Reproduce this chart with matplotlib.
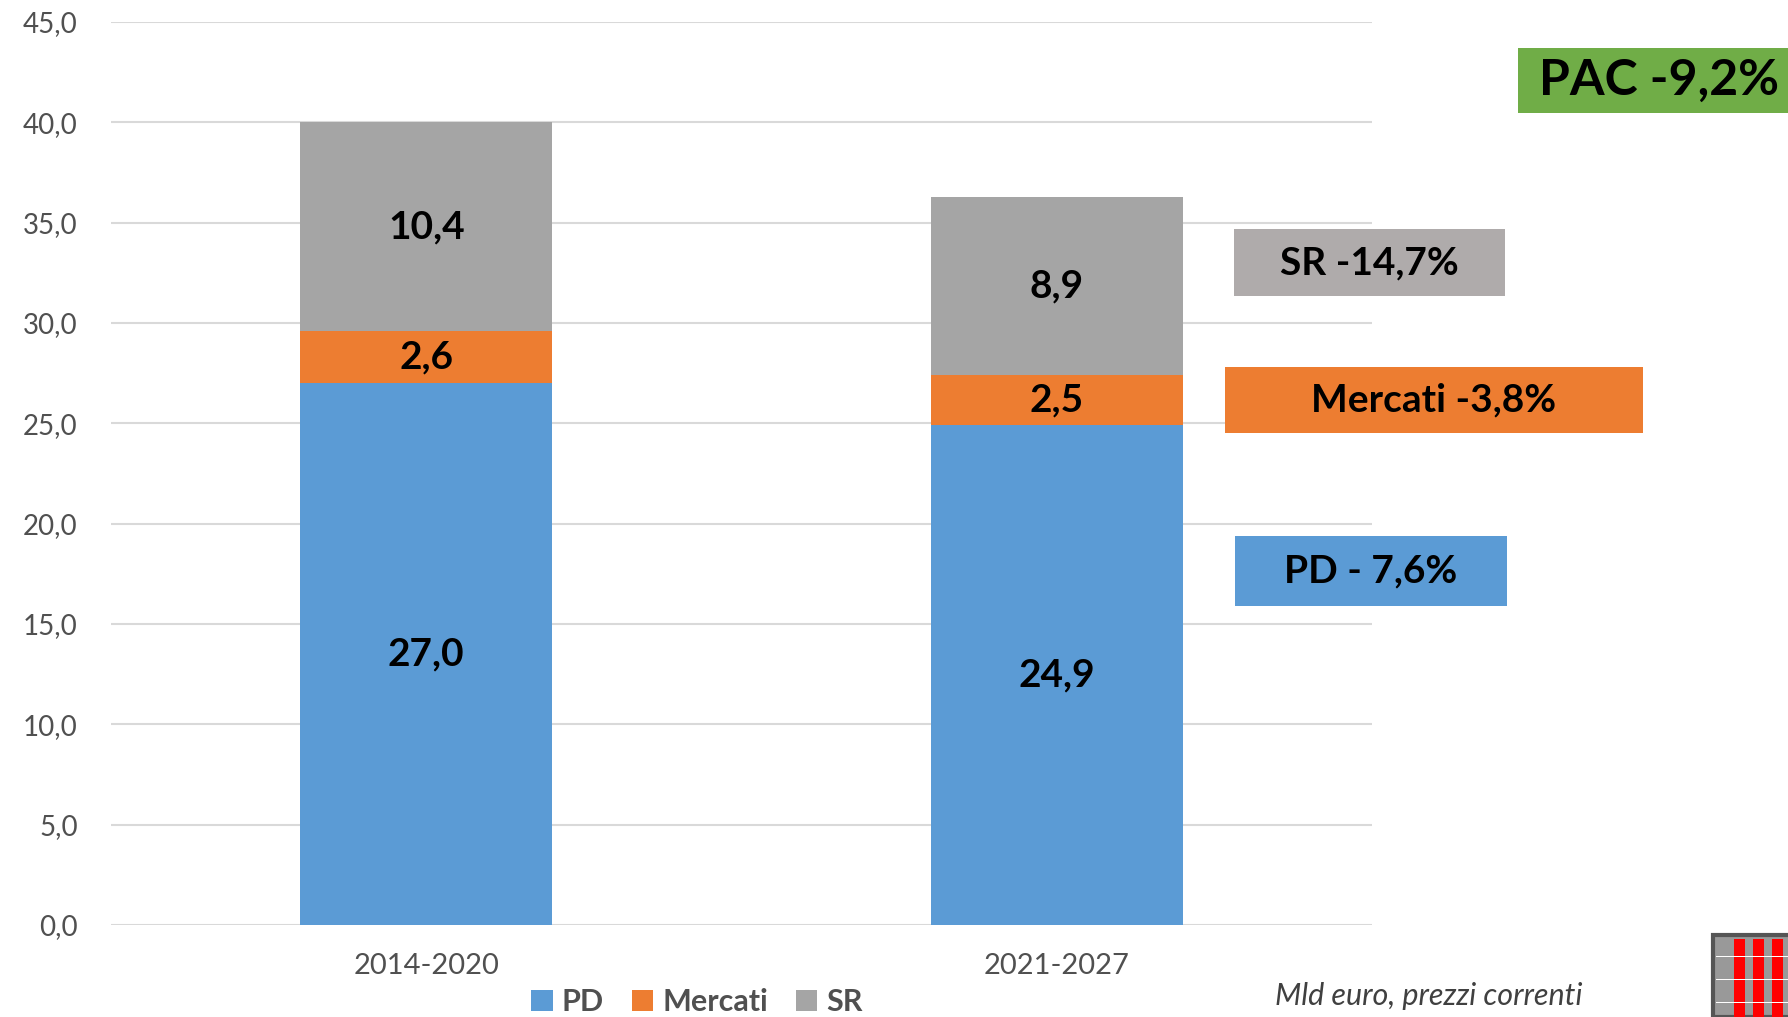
import matplotlib
matplotlib.use("Agg")
import matplotlib.pyplot as plt
from matplotlib.patches import Rectangle
import numpy as np

# data
periodi = ["2014-2020", "2021-2027"]
pd_vals = [27.0, 24.9]
mercati_vals = [2.6, 2.5]
sr_vals = [10.4, 8.9]
serie = ["PD", "Mercati", "SR"]
variazioni = ["SR -14,7%", "Mercati -3,8%", "PD - 7,6%"]
totale = "PAC -9,2%"
nota = "Mld euro, prezzi correnti"

colori = ["#5B9BD5", "#ED7D31", "#A5A5A5"]

plt.rcParams['font.family'] = ['Lato', 'DejaVu Sans']

W, H = 1788, 1017
fig = plt.figure(figsize=(W / 100, H / 100), dpi=100)
ax = fig.add_axes([111 / W, 1 - 925 / H, (1372 - 111) / W, (925 - 22) / H])

x = np.arange(len(periodi))
bottom = np.zeros(len(periodi))
for nome, vals, col in zip(serie, [pd_vals, mercati_vals, sr_vals], colori):
    vals = np.array(vals)
    ax.bar(x, vals, 0.4, bottom=bottom, color=col, label=nome, zorder=2)
    for xi, b, v in zip(x, bottom, vals):
        ax.text(xi, b + v / 2, f"{v:.1f}".replace(".", ","), ha="center", va="center",
                fontsize=28, fontweight="bold", color="black", zorder=3)
    bottom += vals

ax.set_xlim(-0.5, 1.5)
ax.set_ylim(0, 45)
ax.set_yticks(np.arange(0, 46, 5))
ax.set_yticklabels([f"{v:.1f}".replace(".", ",") for v in np.arange(0, 46, 5)])
ax.set_xticks(x)
ax.set_xticklabels(periodi)
ax.yaxis.grid(True, color="#D9D9D9", linewidth=1.5, zorder=0)
ax.set_axisbelow(True)
for s in ax.spines.values():
    s.set_visible(False)
ax.tick_params(axis="y", length=0, pad=24, labelsize=20, labelcolor="#505050")
ax.tick_params(axis="x", length=0, pad=20, labelsize=21, labelcolor="#505050")

leg = fig.legend(loc="center", bbox_to_anchor=(697 / W, 1 - 1002 / H), ncol=3, frameon=False,
                 handlelength=0.7, handleheight=0.7, handletextpad=0.3, columnspacing=0.9,
                 prop={"size": 22, "weight": "bold"})
for t in leg.get_texts():
    t.set_color("#505050")


def box(x0, y0, x1, y1, col, testo, size):
    fig.add_artist(Rectangle((x0 / W, 1 - y1 / H), (x1 - x0) / W, (y1 - y0) / H,
                             transform=fig.transFigure, facecolor=col, edgecolor="none"))
    fig.text((x0 + x1) / 2 / W, 1 - (y0 + y1) / 2 / H, testo, ha="center", va="center",
             fontsize=size, fontweight="bold", color="black")


box(1518, 48, 1800, 113, "#70AD47", totale, 36)
box(1234, 229, 1505, 296, "#AFABAB", variazioni[0], 28)
box(1225, 367, 1643, 433, "#ED7D31", variazioni[1], 28)
box(1235, 536, 1507, 606, "#5B9BD5", variazioni[2], 28)

fig.text(1429 / W, 1 - 996 / H, nota, ha="center", va="center", fontsize=22,
         style="italic", color="#404040")

# logo in basso a destra
fig.add_artist(Rectangle((1713 / W, 1 - 1017 / H), 80 / W, 82 / H, transform=fig.transFigure,
                         facecolor="#999999", edgecolor="#555555", linewidth=3))
for xr in [1734, 1753, 1772]:
    fig.add_artist(Rectangle((xr / W, 0), 11 / W, 78 / H, transform=fig.transFigure,
                             facecolor="#FF0000", edgecolor="none"))
for yr in [957, 980, 1003]:
    fig.add_artist(Rectangle((1716 / W, 1 - yr / H), 72 / W, 1.5 / H, transform=fig.transFigure,
                             facecolor="white", edgecolor="none"))

fig.savefig("out.png", dpi=100)
